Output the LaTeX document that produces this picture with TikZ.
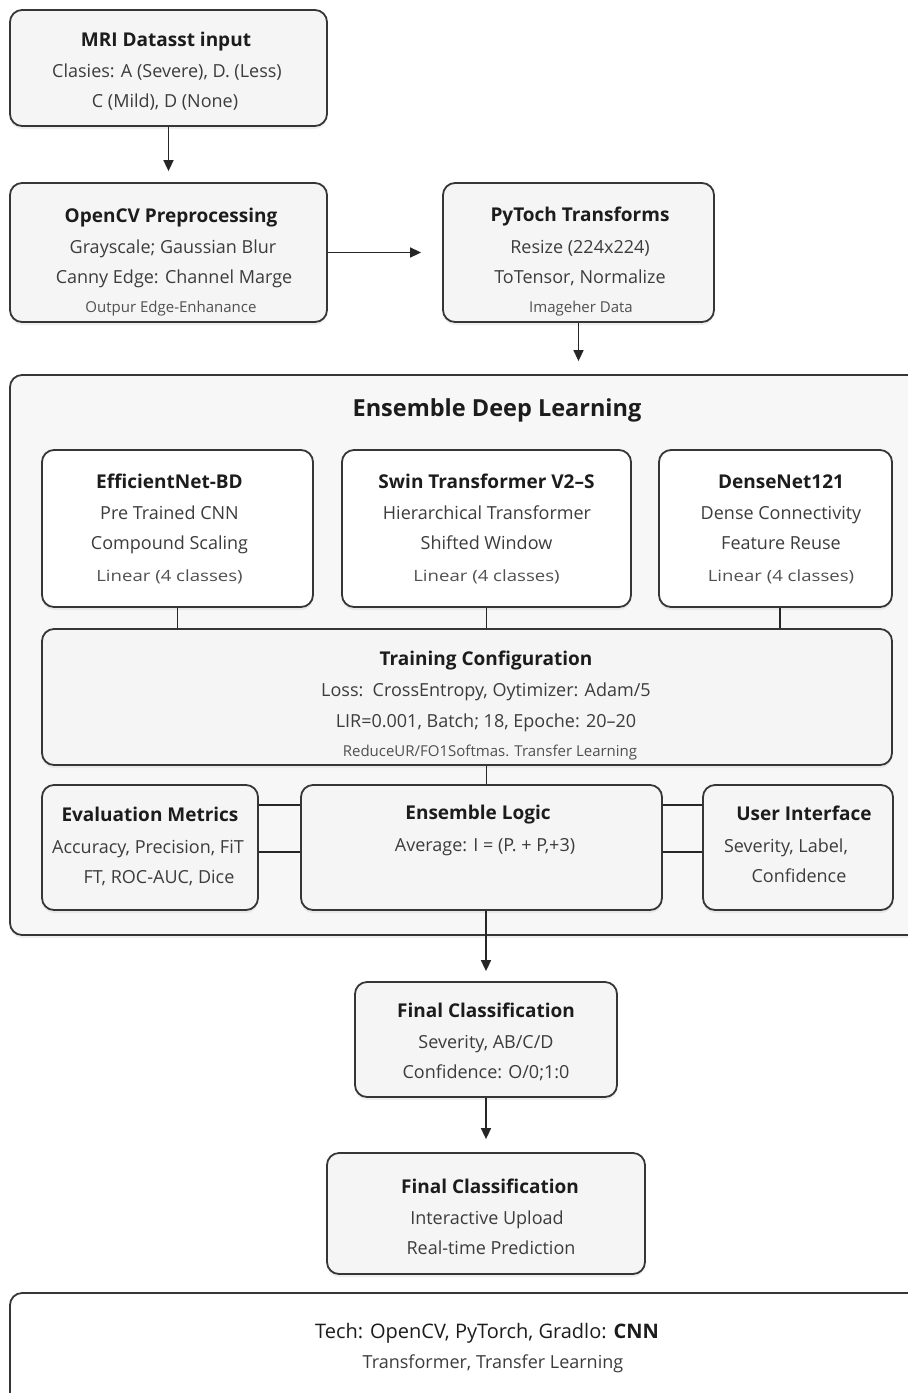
\documentclass[tikz,border=0pt]{standalone}
\usepackage{fontspec}
\setmainfont{Open Sans}
\usetikzlibrary{arrows.meta,shadows}
\definecolor{bordc}{HTML}{363636}
\definecolor{boxfill}{HTML}{F5F5F5}
\definecolor{outfill}{HTML}{F7F7F7}
\definecolor{ttlc}{HTML}{1C1C1C}
\definecolor{bodyc}{HTML}{3C3C3C}
\definecolor{smallc}{HTML}{505050}
\tikzset{
  box/.style={draw=bordc, line width=1.8pt, rounded corners=12pt, fill=boxfill, inner sep=0pt,
    drop shadow={shadow xshift=0pt, shadow yshift=-3pt, opacity=0.12}},
  whitebox/.style={box, fill=white},
  ttl/.style={inner sep=0pt, anchor=center, text height=13.6pt, text depth=0pt, text=ttlc,
    font=\fontsize{19}{22}\selectfont\bfseries},
  bigttl/.style={inner sep=0pt, anchor=center, text height=16.8pt, text depth=0pt, text=ttlc,
    font=\fontsize{23.5}{27}\selectfont\bfseries},
  body/.style={inner sep=0pt, anchor=center, text height=12.8pt, text depth=0pt, text=bodyc,
    font=\fontsize{18}{21}\selectfont},
  techbody/.style={body, text height=14.3pt, text=ttlc, font=\fontsize{20}{23}\selectfont},
  small/.style={inner sep=0pt, anchor=center, text height=10.7pt, text depth=0pt, text=smallc,
    font=\fontsize{15}{18}\selectfont},
  lin/.style={inner sep=0pt, anchor=center, text height=10.7pt, text depth=0pt, text=smallc,
    font=\fontsize{15.5}{18}\selectfont},
  conn/.style={draw=black!85, line width=1.6pt},
  arr/.style={conn, -{Triangle[length=11pt,width=10pt]}},
}
\newcommand{\linclasses}{\scalebox{1.2}[1]{Linear (4 classes)}}
\begin{document}
\begin{tikzpicture}[x=1pt,y=-1pt]
\useasboundingbox[fill=white] (0,0) rectangle (908,1393);

% ---------- top boxes ----------
\node[box, minimum width=317, minimum height=116] (mri) at (168.5,68) {};
\node[ttl] (mri1) at (166,40) {MRI Datasst input};
\node[body] (mri2) at (167,71) {Clasies: A (Severe), D. (Less)};
\node[body] (mri3) at (165,101) {C (Mild), D (None)};

\node[box, minimum width=317, minimum height=139] (opencv) at (168.5,252.5) {};
\node[ttl] (cv1) at (171,216) {OpenCV Preprocessing};
\node[body] (cv2) at (173,247) {Grayscale; Gaussian Blur};
\node[body] (cv3) at (174,277) {Canny Edge: Channel Marge};
\node[small] (cv4) at (171,307) {Outpur Edge-Enhanance};

\node[box, minimum width=271, minimum height=139] (pytorch) at (578.5,252.5) {};
\node[ttl] (pt1) at (580,215) {PyToch Transforms};
\node[body] (pt2) at (580,247) {Resize (224x224)};
\node[body] (pt3) at (580,277) {ToTensor, Normalize};
\node[small] (pt4) at (581,307) {Imageher Data};

% ---------- ensemble container ----------
\node[box, fill=outfill, minimum width=910, minimum height=560] (ens) at (465,655) {};
\node[bigttl] (ens1) at (497,408) {Ensemble Deep Learning};

\node[whitebox, minimum width=271, minimum height=157] (eff) at (177.5,528.5) {};
\node[ttl] (eff1) at (169.5,482) {EfficientNet-BD};
\node[body] (eff2) at (169.5,513) {Pre Trained CNN};
\node[body] (eff3) at (169.5,543) {Compound Scaling};
\node[lin] (eff4) at (169.5,576) {\linclasses};

\node[whitebox, minimum width=289, minimum height=157] (swin) at (486.5,528.5) {};
\node[ttl] (sw1) at (486.5,482) {Swin Transformer V2--S};
\node[body] (sw2) at (487,513) {Hierarchical Transformer};
\node[body] (sw3) at (486.5,543) {Shifted Window};
\node[lin] (sw4) at (486.5,576) {\linclasses};

\node[whitebox, minimum width=233, minimum height=157] (dense) at (775.5,528.5) {};
\node[ttl] (dn1) at (781,482) {DenseNet121};
\node[body] (dn2) at (781,513) {Dense Connectivity};
\node[body] (dn3) at (781,543) {Feature Reuse};
\node[lin] (dn4) at (781,576) {\linclasses};

\node[box, minimum width=850, minimum height=136] (train) at (467,697) {};
\node[ttl] (tr1) at (486,659) {Training Configuration};
\node[body] (tr2) at (486,690) {Loss:\ \ CrossEntropy, Oytimizer: Adam/5};
\node[body] (tr3) at (486,721) {LIR=0.001, Batch; 18, Epoche: 20--20};
\node[small] (tr4) at (490,751) {ReduceUR/FO1Softmas. Transfer Learning};

\node[box, minimum width=216, minimum height=125] (eval) at (150,847.5) {};
\node[ttl] (ev1) at (150,815) {Evaluation Metrics};
\node[body] (ev2) at (148,847) {Accuracy, Precision, FiT};
\node[body] (ev3) at (159,877) {FT, ROC-AUC, Dice};

\node[box, minimum width=361, minimum height=125] (logic) at (481.5,847.5) {};
\node[ttl] (lg1) at (478,813) {Ensemble Logic};
\node[body] (lg2) at (485,845) {Average: I = (P. + P,+3)};

\node[box, minimum width=190, minimum height=125] (ui) at (798,847.5) {};
\node[ttl] (ui1) at (804,814) {User Interface};
\node[body] (ui2) at (786,846) {Severity, Label,};
\node[body] (ui3) at (799,876) {Confidence};

% ---------- bottom ----------
\node[box, minimum width=262, minimum height=115] (final1) at (486,1039.5) {};
\node[ttl] (f11) at (486,1011) {Final Classification};
\node[body] (f12) at (486,1042) {Severity, AB/C/D};
\node[body] (f13) at (486,1072) {Confidence: O/0;1:0};

\node[box, minimum width=318, minimum height=121] (final2) at (486,1213.5) {};
\node[ttl] (f21) at (490,1187) {Final Classification};
\node[body] (f22) at (487,1218) {Interactive Upload};
\node[body] (f23) at (491,1248) {Real-time Prediction};

\node[box, fill=white, minimum width=910, minimum height=127] (tech) at (465,1356.5) {};
\node[techbody] (te1) at (487,1331) {Tech: OpenCV, PyTorch, Gradlo: \textbf{CNN}};
\node[body] (te2) at (493,1362) {Transformer, Transfer Learning};

% ---------- connectors ----------
\draw[arr] (mri.south) -- ([yshift=11pt]opencv.north);
\draw[arr] (opencv.east) -- ([xshift=-21pt]pytorch.west);
\draw[arr] (pytorch.south) -- ([yshift=13pt]ens.north -| pytorch.south);

\draw[conn] (eff.south) -- (eff.south |- train.north);
\draw[conn] (swin.south) -- (swin.south |- train.north);
\draw[conn] ([xshift=4.5pt]dense.south) -- ([xshift=4.5pt]dense.south |- train.north);
\draw[conn] (train.south -| swin.south) -- (logic.north -| swin.south);

\draw[conn] ([yshift=42.5pt]eval.east) -- ([yshift=42.5pt]logic.west);
\draw[conn] ([yshift=-4.5pt]eval.east) -- ([yshift=-4.5pt]logic.west);
\draw[conn] ([yshift=42.5pt]logic.east) -- ([yshift=42.5pt]ui.west);
\draw[conn] ([yshift=-4.5pt]logic.east) -- ([yshift=-4.5pt]ui.west);

\draw[arr] (final1.north |- logic.south) -- ([yshift=10pt]final1.north);
\draw[arr] (final1.south) -- ([yshift=13pt]final2.north);
\end{tikzpicture}
\end{document}
